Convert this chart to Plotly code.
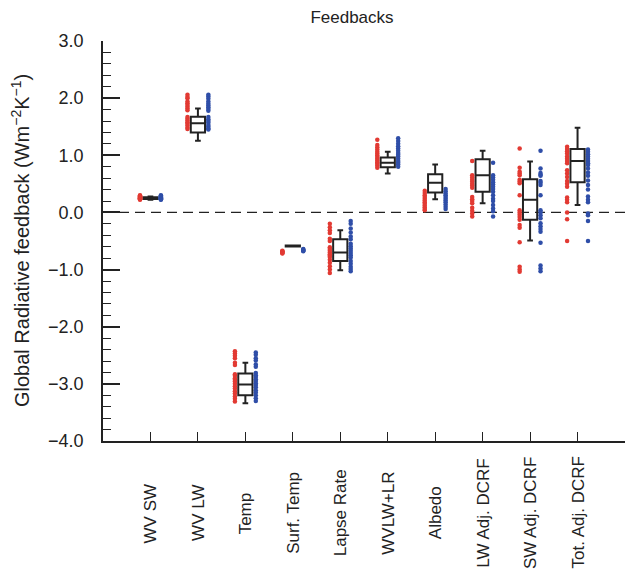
import plotly.graph_objects as go

categories = ["WV SW", "WV LW", "Temp", "Surf. Temp", "Lapse Rate", "WVLW+LR",
              "Albedo", "LW Adj. DCRF", "SW Adj. DCRF", "Tot. Adj. DCRF"]
positions = [1, 2, 3, 4, 5, 6, 7, 8, 9, 10]

red_values = [
    [0.30, 0.29, 0.28, 0.28, 0.27, 0.27, 0.26, 0.26, 0.25, 0.25, 0.24, 0.24, 0.23, 0.22],
    [2.06, 2.02, 2.00, 1.94, 1.91, 1.88, 1.85, 1.82, 1.79, 1.67, 1.64, 1.61, 1.58, 1.55, 1.52, 1.48, 1.46],
    [-2.43, -2.47, -2.51, -2.55, -2.63, -2.67, -2.83, -2.86, -2.90, -2.93, -2.96, -3.00, -3.04, -3.08, -3.13, -3.17, -3.22, -3.26, -3.31],
    [-0.67, -0.68, -0.69, -0.70, -0.71, -0.72],
    [-0.20, -0.26, -0.31, -0.36, -0.46, -0.50, -0.61, -0.64, -0.67, -0.70, -0.73, -0.76, -0.78, -0.83, -0.88, -0.94, -1.00, -1.06],
    [1.27, 1.18, 1.14, 1.10, 1.06, 1.03, 1.00, 0.97, 0.94, 0.91, 0.88, 0.85, 0.82, 0.78],
    [0.38, 0.34, 0.30, 0.27, 0.24, 0.21, 0.18, 0.15, 0.12, 0.09, 0.06, 0.04],
    [0.90, 0.65, 0.61, 0.57, 0.54, 0.50, 0.47, 0.43, 0.27, 0.23, 0.20, 0.16, 0.08, 0.03, -0.02, -0.07],
    [1.12, 0.78, 0.71, 0.68, 0.65, 0.57, 0.54, 0.51, 0.30, 0.04, 0.00, -0.04, -0.08, -0.13, -0.22, -0.27, -0.52, -0.95, -1.00, -1.04],
    [1.15, 1.11, 1.07, 1.03, 0.98, 0.94, 0.90, 0.86, 0.74, 0.68, 0.62, 0.55, 0.50, 0.45, 0.26, 0.22, 0.18, 0.00, -0.12, -0.50],
]
blue_values = [
    [0.30, 0.29, 0.28, 0.27, 0.27, 0.26, 0.26, 0.25, 0.25, 0.24, 0.24, 0.23, 0.23, 0.22],
    [2.06, 2.03, 1.99, 1.94, 1.90, 1.87, 1.84, 1.81, 1.78, 1.67, 1.63, 1.60, 1.57, 1.53, 1.50, 1.47, 1.45],
    [-2.45, -2.49, -2.55, -2.59, -2.66, -2.70, -2.81, -2.85, -2.88, -2.92, -2.95, -2.99, -3.02, -3.06, -3.11, -3.15, -3.20, -3.25, -3.30],
    [-0.64, -0.65, -0.66, -0.67, -0.68],
    [-0.15, -0.20, -0.28, -0.35, -0.42, -0.47, -0.55, -0.59, -0.63, -0.67, -0.71, -0.75, -0.79, -0.85, -0.90, -0.95, -0.99, -1.03],
    [1.30, 1.25, 1.20, 1.16, 1.12, 1.08, 1.04, 1.01, 0.98, 0.94, 0.90, 0.87, 0.84, 0.80],
    [0.41, 0.37, 0.33, 0.30, 0.27, 0.24, 0.21, 0.18, 0.14, 0.10, 0.06],
    [0.87, 0.65, 0.61, 0.57, 0.53, 0.49, 0.45, 0.41, 0.36, 0.30, 0.24, 0.20, 0.13, 0.07, 0.02, -0.07],
    [1.08, 0.77, 0.69, 0.66, 0.64, 0.55, 0.52, 0.48, 0.30, 0.04, 0.00, -0.05, -0.10, -0.19, -0.24, -0.29, -0.34, -0.53, -0.93, -0.98, -1.03],
    [1.10, 1.06, 1.02, 0.98, 0.94, 0.90, 0.86, 0.83, 0.77, 0.70, 0.64, 0.56, 0.48, 0.40, 0.28, 0.22, 0.18, -0.02, -0.05, -0.15, -0.50],
]

box_lower = [0.22, 1.255, -3.34, -0.595, -1.01, 0.68, 0.23, 0.16, -0.49, 0.13]
box_q1 = [0.235, 1.40, -3.20, -0.595, -0.85, 0.79, 0.35, 0.36, -0.13, 0.53]
box_median = [0.25, 1.56, -3.01, -0.59, -0.70, 0.87, 0.52, 0.65, 0.22, 0.90]
box_q3 = [0.265, 1.675, -2.82, -0.58, -0.47, 0.96, 0.67, 0.93, 0.58, 1.11]
box_upper = [0.28, 1.82, -2.63, -0.58, -0.31, 1.06, 0.84, 1.08, 0.89, 1.48]

y_ticks = [3.0, 2.0, 1.0, 0.0, -1.0, -2.0, -3.0, -4.0]

RED = "#e23a33"
BLUE = "#2f4ea8"
INK = "#222222"
FONT = "Liberation Sans"
OFFSET = 0.22

# the page body adds an 8px margin; size the figure so the plot lands where the reference has it
W, H = 629, 569
ML, MR, MT, MB = 95, 12, 33, 136
PLOT_W = W - ML - MR
PLOT_H = H - MT - MB

fig = go.Figure()

rx, ry, bx, by = [], [], [], []
for p, rv, bv in zip(positions, red_values, blue_values):
    rx += [p - OFFSET] * len(rv)
    ry += rv
    bx += [p + OFFSET] * len(bv)
    by += bv

fig.add_trace(go.Scatter(x=rx, y=ry, mode="markers",
                         marker=dict(color=RED, size=4.5, line=dict(width=0)),
                         showlegend=False, hoverinfo="skip"))
fig.add_trace(go.Scatter(x=bx, y=by, mode="markers",
                         marker=dict(color=BLUE, size=4.5, line=dict(width=0)),
                         showlegend=False, hoverinfo="skip"))

fig.add_trace(go.Box(x=positions, q1=box_q1, median=box_median, q3=box_q3,
                     lowerfence=box_lower, upperfence=box_upper,
                     width=0.3, whiskerwidth=0.4, boxpoints=False,
                     fillcolor="rgba(0,0,0,0)", line=dict(color=INK, width=2),
                     showlegend=False, hoverinfo="skip"))

fig.add_shape(type="line", xref="paper", yref="y", x0=0, x1=1, y0=0, y1=0,
              line=dict(color=INK, width=1.3, dash="10px,6px"), layer="below")

for p, c in zip(positions, categories):
    fig.add_annotation(x=p, y=-0.18, xref="x", yref="paper", text=c,
                       textangle=-90, showarrow=False, xanchor="center",
                       yanchor="middle", font=dict(family=FONT, size=17, color=INK))

fig.add_annotation(x=(12 - ML) / PLOT_W, y=0.5, xref="paper", yref="paper",
                   text="Global Radiative feedback (Wm<sup>−2</sup>K<sup>−1</sup>)",
                   textangle=-90, showarrow=False, xanchor="center", yanchor="middle",
                   font=dict(family=FONT, size=20, color=INK))

fig.update_layout(
    width=W, height=H,
    margin=dict(l=ML, r=MR, t=MT, b=MB, autoexpand=False),
    paper_bgcolor="white", plot_bgcolor="white",
    font=dict(family=FONT, color=INK),
    title=dict(text="Feedbacks", x=(352 - 8) / W, xanchor="center", xref="container",
               y=1 - 9 / H, yanchor="middle",
               font=dict(family=FONT, size=17, color=INK)),
    showlegend=False,
)
fig.update_xaxes(range=[0, 11], tickvals=positions, ticktext=[""] * len(positions),
                 showticklabels=False, ticks="inside", ticklen=9, tickwidth=1.3,
                 tickcolor=INK, showline=True, linecolor=INK, linewidth=1.5,
                 showgrid=False, zeroline=False, fixedrange=True, automargin=False)
fig.update_yaxes(range=[-4, 3], tickvals=y_ticks, tickformat=".1f",
                 ticks="inside", ticklen=17, tickwidth=1.5, tickcolor=INK,
                 minor=dict(dtick=0.2, ticks="inside", ticklen=8, tickwidth=1.2,
                            tickcolor=INK, showgrid=False),
                 showline=True, linecolor=INK, linewidth=1.5, showgrid=False,
                 zeroline=False, tickfont=dict(family=FONT, size=18, color=INK),
                 ticklabelstandoff=14, automargin=False, fixedrange=True)

fig.write_html("out.html")
